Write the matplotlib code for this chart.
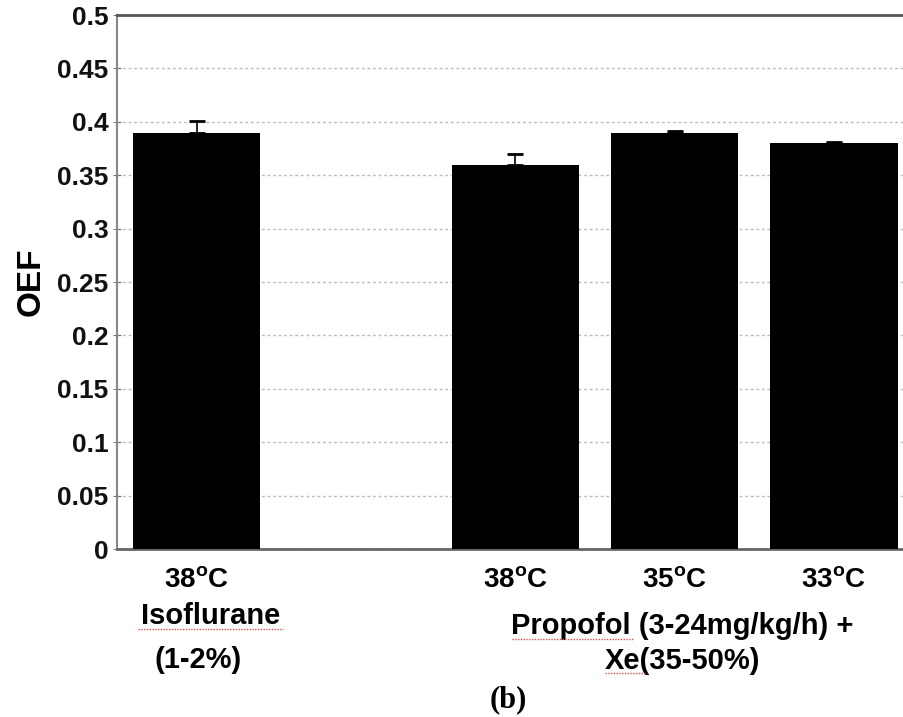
import matplotlib
matplotlib.use("Agg")
import matplotlib.pyplot as plt
import matplotlib.transforms as mtransforms
from matplotlib.lines import Line2D

plt.rcParams['font.family'] = ['Liberation Sans', 'DejaVu Sans']
plt.rcParams['mathtext.fontset'] = 'custom'
plt.rcParams['mathtext.bf'] = 'Liberation Sans:bold'
plt.rcParams['mathtext.rm'] = 'Liberation Sans'

# bar positions (gap between the two anaesthesia groups)
positions = [0, 2, 3, 4]
tick_labels = [r'$\mathbf{38^{o}C}$', r'$\mathbf{38^{o}C}$', r'$\mathbf{35^{o}C}$', r'$\mathbf{33^{o}C}$']
oef_mean = [0.39, 0.36, 0.39, 0.38]
oef_err = [0.011, 0.010, 0.001, 0.001]
y_ticks = [0, 0.05, 0.1, 0.15, 0.2, 0.25, 0.3, 0.35, 0.4, 0.45, 0.5]
y_tick_labels = ['0', '0.05', '0.1', '0.15', '0.2', '0.25', '0.3', '0.35', '0.4', '0.45', '0.5']

fig = plt.figure(figsize=(9.04, 7.17), dpi=100)
ax = fig.add_axes([0.1294, 0.2343, 0.8706, 0.7447])

ax.bar(positions, oef_mean, width=0.8, color='black', zorder=3)
ax.errorbar(positions, oef_mean, yerr=[[0] * len(oef_err), oef_err], fmt='none',
            ecolor='black', elinewidth=1.2, capsize=6, capthick=2, zorder=4)

ax.set_xlim(-0.5, 4.44)
ax.set_ylim(0, 0.5)
ax.set_yticks(y_ticks)
ax.set_yticklabels(y_tick_labels, fontsize=19, fontweight='bold', color='#111111')
ax.set_xticks(positions)
ax.set_xticklabels(tick_labels, fontsize=20)
ax.tick_params(axis='x', length=0, pad=13)
ax.tick_params(axis='y', direction='inout', length=6, color='#777777', pad=3)

ax.yaxis.grid(True, linestyle=(0, (2, 2)), color='#bbbbbb', linewidth=1, zorder=0)
ax.set_axisbelow(True)

ax.spines['right'].set_visible(False)
ax.spines['top'].set_color('#555555')
ax.spines['top'].set_linewidth(2)
ax.spines['left'].set_color('#888888')
ax.spines['left'].set_linewidth(1.5)
ax.spines['bottom'].set_color('#666666')
ax.spines['bottom'].set_linewidth(2)

ax.set_ylabel('OEF', fontsize=24, fontweight='bold', labelpad=8)

# group labels under the tick labels
trans = mtransforms.blended_transform_factory(ax.transData, fig.transFigure)
ax.text(0.09, 1 - 616 / 717, 'Isoflurane', transform=trans, ha='center', va='center',
        fontsize=21, fontweight='bold')
ax.text(0.01, 1 - 660 / 717, '(1-2%)', transform=trans, ha='center', va='center',
        fontsize=21, fontweight='bold')
ax.text(3.05, 1 - 626 / 717, 'Propofol (3-24mg/kg/h) +', transform=trans, ha='center',
        va='center', fontsize=21, fontweight='bold')
ax.text(3.05, 1 - 661 / 717, 'Xe(35-50%)', transform=trans, ha='center', va='center',
        fontsize=21, fontweight='bold')

# red spell-check squiggles seen under some words
for x0, x1, y in [(138, 283, 629), (512, 634, 639), (605, 645, 673)]:
    fig.add_artist(Line2D([x0 / 904, x1 / 904], [1 - y / 717] * 2, color='#e05050',
                          linewidth=1, linestyle=(0, (1, 1)), transform=fig.transFigure))

fig.text(508 / 904, 1 - 700 / 717, '(b)', ha='center', va='center', fontsize=22,
         fontweight='bold', family=['Liberation Serif', 'DejaVu Serif'])

fig.savefig('out.png', dpi=100)
